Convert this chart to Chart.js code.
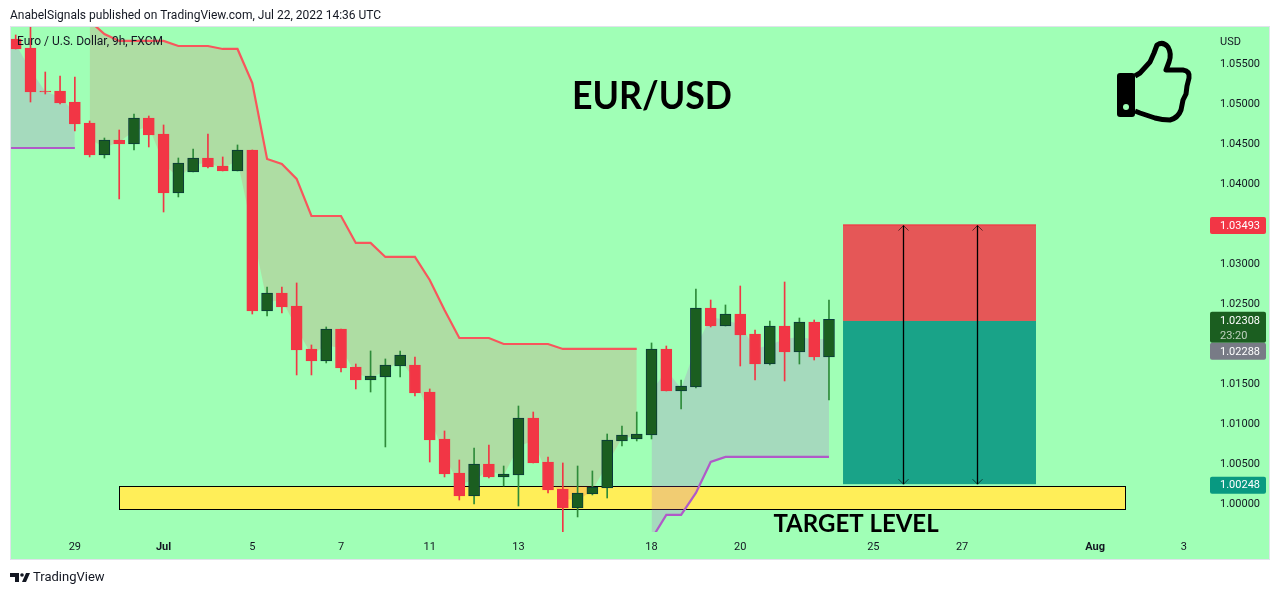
<!DOCTYPE html>
<html>
<head>
<meta charset="utf-8">
<title>EUR/USD</title>
<script src="https://cdn.jsdelivr.net/npm/chart.js@4"></script>
<style>
html, body { margin: 0; padding: 0; background: #fff; }
canvas { display: block; }
</style>
</head>
<body>
<canvas id="chart" width="1280" height="595"></canvas>
<script>
// candles, one entry per 9h bar
const opens = [1.05813,1.057,1.05163,1.05163,1.05025,1.04763,1.04363,1.0455,1.045,1.04825,1.04625,1.03888,1.0415,1.04325,1.04225,1.04163,1.04425,1.02413,1.02638,1.02475,1.01938,1.01788,1.02188,1.01713,1.0155,1.01588,1.01725,1.01738,1.014,1.00813,1.00388,1.001,1.005,1.00338,1.00363,1.01075,1.00525,1.00188,0.9995,1.00125,1.002,1.00788,1.00813,1.00863,1.01938,1.01413,1.01463,1.0245,1.02225,1.02375,1.02125,1.0175,1.02225,1.019,1.02275,1.01838];
const highs = [1.05863,1.0605,1.054,1.0535,1.05338,1.04788,1.04575,1.04675,1.04875,1.0485,1.04738,1.04325,1.04438,1.04625,1.04338,1.04488,1.04425,1.02713,1.02713,1.02763,1.01988,1.02213,1.02188,1.0175,1.01913,1.01813,1.01913,1.01838,1.01438,1.00913,1.0055,1.007,1.00738,1.00475,1.01225,1.0115,1.00588,1.00513,1.00475,1.00413,1.00875,1.00975,1.0115,1.02013,1.01975,1.0155,1.02688,1.0255,1.02488,1.02725,1.02175,1.02288,1.02775,1.02325,1.023,1.0255];
const lows = [1.05688,1.05025,1.05125,1.05,1.04663,1.04338,1.04325,1.03813,1.04425,1.04463,1.0365,1.03838,1.0415,1.042,1.04163,1.04163,1.02375,1.0235,1.02388,1.01613,1.01613,1.01763,1.0165,1.01438,1.014,1.00713,1.01588,1.0135,1.00525,1.00338,1.0005,1.0,1.00325,1.00225,0.99975,1.00513,1.00138,0.9965,0.99838,1.00113,1.00075,1.00725,1.00788,1.00813,1.01413,1.01188,1.0145,1.02213,1.02225,1.01725,1.0155,1.01738,1.01538,1.0175,1.018,1.013];
const closes = [1.05688,1.0515,1.0515,1.05013,1.0475,1.04363,1.0455,1.045,1.04825,1.04613,1.03888,1.04263,1.04325,1.04213,1.04163,1.04425,1.02413,1.02638,1.02463,1.01925,1.01788,1.02188,1.017,1.0155,1.016,1.01738,1.01863,1.01388,1.008,1.00375,1.001,1.005,1.00338,1.00375,1.01075,1.00513,1.00175,0.9995,1.00138,1.00213,1.008,1.00863,1.00875,1.01938,1.01413,1.01475,1.0245,1.02225,1.02375,1.02113,1.0175,1.02225,1.019,1.02275,1.01838,1.02308];

// supertrend lines and the edge of their shading, these start one bar earlier (off the left side)
const trendDown = [null,null,null,null,null,null,1.06038,1.05875,1.05788,1.05788,1.05788,1.05788,1.05725,1.05725,1.05725,1.05688,1.05688,1.05263,1.04313,1.0425,1.04063,1.036,1.036,1.036,1.03263,1.03263,1.03088,1.03088,1.03088,1.028,1.02425,1.02075,1.02075,1.02075,1.02,1.02,1.02,1.02,1.01938,1.01938,1.01938,1.01938,1.01938,1.01938,null,null,null,null,null,null,null,null,null,null,null,null,null];
const trendUp = [1.0445,1.0445,1.0445,1.0445,1.0445,1.0445,null,null,null,null,null,null,null,null,null,null,null,null,null,null,null,null,null,null,null,null,null,null,null,null,null,null,null,null,null,null,null,null,null,null,null,null,null,null,0.99563,0.99863,0.99863,1.00138,1.00525,1.00588,1.00588,1.00588,1.00588,1.00588,1.00588,1.00588,1.00588];
const bandEdge = [1.05838,1.0575,1.05425,1.05156,1.05088,1.04888,1.04563,1.04456,1.04525,1.04663,1.04719,1.04256,1.04075,1.04238,1.04269,1.04194,1.04294,1.03419,1.02525,1.0255,1.022,1.01863,1.01988,1.01944,1.01631,1.01575,1.01663,1.01794,1.01563,1.011,1.00594,1.00244,1.003,1.00419,1.00356,1.00719,1.00794,1.0035,1.00069,1.00044,1.00169,1.005,1.00825,1.00844,1.014,1.01675,1.01444,1.01956,1.02338,1.023,1.02244,1.01938,1.01988,1.02063,1.02088,1.02056,1.02069];

// axes
const yTicks = [1.0, 1.005, 1.01, 1.015, 1.025, 1.03, 1.04, 1.045, 1.05, 1.055];
const xTicks = [4, 10, 16, 22, 28, 34, 43, 49, 58, 64, 73, 79];
const xLabels = ['29', 'Jul', '5', '7', '11', '13', '18', '20', '25', '27', 'Aug', '3'];
const boldLabels = ['Jul', 'Aug'];

// drawings, in bar number and price
const targetZone = [7, 75, 1.00225, 0.99943];
const tradeX = [55.95, 69];
const tradeLevels = [1.03493, 1.02288, 1.00248];
const arrowBars = [60, 65];

const red = '#F23645';
const greenBody = '#1B5E20';
const ink = '#131722';
const labelFont = 'Roboto, sans-serif';
const bars = opens.map((_, i) => i);
const isUp = i => closes[i] >= opens[i];

function series(values) {
    return values.map((v, i) => ({ x: i - 1, y: v }));
}

function roundBox(ctx, x, y, w, h, color) {
    ctx.fillStyle = color;
    ctx.beginPath();
    ctx.roundRect(x, y, w, h, 2);
    ctx.fill();
}

function drawThumb(ctx) {
    ctx.save();
    ctx.fillStyle = '#000';
    ctx.beginPath();
    ctx.roundRect(1117, 73, 18, 44, 3);
    ctx.fill();
    ctx.fillStyle = '#A0FFB6';
    ctx.beginPath();
    ctx.arc(1126, 107, 3, 0, Math.PI * 2);
    ctx.fill();
    const hand = new Path2D('M1135 76 L1140 73 L1150 62 L1154 53 L1157 45 Q1163 41 1168 47 Q1172 54 1169 62 L1166 70 L1183 70 Q1190 71 1189 78 L1187 86 L1186 94 L1183 100 L1181 110 Q1178 118 1170 120 Q1162 120 1155 118 L1140 113 L1135 111');
    ctx.strokeStyle = '#000';
    ctx.lineWidth = 5;
    ctx.lineJoin = 'round';
    ctx.stroke(hand);
    ctx.restore();
}

function drawLogo(ctx) {
    ctx.fillStyle = ink;
    ctx.fill(new Path2D('M10 573 H19 V582 H15 V577 H10 Z M22 582 L26 573 H30 L26 582 Z'));
    ctx.beginPath();
    ctx.arc(22, 575, 1.8, 0, Math.PI * 2);
    ctx.fill();
}

const decor = {
    id: 'decor',
    beforeDraw(chart) {
        const ctx = chart.ctx;
        ctx.save();
        ctx.fillStyle = '#fff';
        ctx.fillRect(0, 0, chart.width, chart.height);
        ctx.fillStyle = '#A0FFB6';
        ctx.fillRect(10, 26, 1260, 534);
        ctx.strokeStyle = '#E0E3EB';
        ctx.strokeRect(10.5, 26.5, 1259, 533);
        ctx.restore();
    },
    beforeDatasetsDraw(chart) {
        const { ctx, scales: { x, y } } = chart;
        const left = Math.round(x.getPixelForValue(targetZone[0])) + 0.5;
        const right = Math.round(x.getPixelForValue(targetZone[1])) + 0.5;
        const top = Math.round(y.getPixelForValue(targetZone[2])) + 0.5;
        const bottom = Math.round(y.getPixelForValue(targetZone[3])) + 0.5;
        ctx.save();
        ctx.fillStyle = '#FFEE58';
        ctx.fillRect(left, top, right - left, bottom - top);
        ctx.strokeStyle = '#000';
        ctx.strokeRect(left, top, right - left, bottom - top);
        ctx.restore();
    },
    afterDatasetsDraw(chart) {
        const { ctx, scales: { x, y } } = chart;
        const left = x.getPixelForValue(tradeX[0]);
        const right = x.getPixelForValue(tradeX[1]);
        const [top, mid, bottom] = tradeLevels.map(v => y.getPixelForValue(v));
        ctx.save();
        ctx.fillStyle = '#E55757';
        ctx.fillRect(left, top, right - left, mid - top);
        ctx.fillStyle = '#19A388';
        ctx.fillRect(left, mid, right - left, bottom - mid);
        ctx.fillStyle = red;
        ctx.fillRect(left, top, right - left, 1);

        arrowBars.forEach(bar => {
            const px = Math.round(x.getPixelForValue(bar)) + 0.5;
            ctx.strokeStyle = '#000';
            ctx.lineWidth = 1.3;
            ctx.beginPath();
            ctx.moveTo(px, top + 1);
            ctx.lineTo(px, bottom);
            ctx.stroke();
            ctx.strokeStyle = 'rgba(0,0,0,0.6)';
            ctx.lineWidth = 1;
            ctx.beginPath();
            ctx.moveTo(px - 5, top + 6);
            ctx.lineTo(px, top + 1);
            ctx.lineTo(px + 5, top + 6);
            ctx.moveTo(px - 5, bottom - 5);
            ctx.lineTo(px, bottom);
            ctx.lineTo(px + 5, bottom - 5);
            ctx.stroke();
        });
        ctx.restore();
    },
    afterDraw(chart) {
        const { ctx, scales: { y } } = chart;
        ctx.save();
        ctx.textBaseline = 'middle';
        ctx.textAlign = 'left';

        ctx.fillStyle = ink;
        ctx.font = '12px ' + labelFont;
        ctx.fillText('AnabelSignals published on TradingView.com, Jul 22, 2022 14:36 UTC', 10, 16);
        ctx.fillText('Euro / U.S. Dollar, 9h, FXCM', 17, 42);
        ctx.font = '11px ' + labelFont;
        ctx.fillText('USD', 1220, 42);
        ctx.font = '13px ' + labelFont;
        ctx.fillText('TradingView', 33, 578);
        drawLogo(ctx);

        ctx.fillStyle = '#000';
        ctx.textAlign = 'center';
        ctx.font = 'bold 39px Lato, sans-serif';
        ctx.fillText('EUR/USD', 652, 96, 160);
        ctx.font = 'bold 24px Lato, sans-serif';
        ctx.fillText('TARGET LEVEL', 856, 524);
        drawThumb(ctx);

        // price labels on the axis
        const boxX = 1210, boxW = 56, textX = 1220;
        const topY = y.getPixelForValue(tradeLevels[0]);
        const lastY = y.getPixelForValue(closes[closes.length - 1]);
        const lowY = y.getPixelForValue(tradeLevels[2]);
        ctx.textAlign = 'left';
        ctx.font = '11px ' + labelFont;
        roundBox(ctx, boxX, topY - 7.5, boxW, 17, red);
        roundBox(ctx, boxX, lastY - 7.5, boxW, 31, greenBody);
        roundBox(ctx, boxX, lastY + 23.5, boxW, 17, '#787B86');
        roundBox(ctx, boxX, lowY - 7.5, boxW, 17, '#089981');
        ctx.fillStyle = '#fff';
        ctx.fillText(tradeLevels[0].toFixed(5), textX, topY + 1.5);
        ctx.fillText(closes[closes.length - 1].toFixed(5), textX, lastY + 1.5);
        ctx.fillText(tradeLevels[1].toFixed(5), textX, lastY + 33);
        ctx.fillText(tradeLevels[2].toFixed(5), textX, lowY + 1.5);
        ctx.fillStyle = 'rgba(255,255,255,0.7)';
        ctx.fillText('23:20', textX, lastY + 16.5);
        ctx.restore();
    }
};

new Chart(document.getElementById('chart'), {
    type: 'bar',
    data: {
        datasets: [
            {
                type: 'line', label: 'edge', data: series(bandEdge),
                borderWidth: 0, pointRadius: 0, order: 9
            },
            {
                type: 'line', label: 'down', data: series(trendDown),
                borderColor: '#F8565C', borderWidth: 2.2, pointRadius: 0, tension: 0,
                fill: { target: 0, above: 'rgba(242,54,69,0.17)', below: 'rgba(242,54,69,0.17)' },
                order: 4
            },
            {
                type: 'line', label: 'up', data: series(trendUp),
                borderColor: '#B05AC8', borderWidth: 2.2, pointRadius: 0, tension: 0,
                fill: { target: 0, above: 'rgba(185,70,222,0.2)', below: 'rgba(185,70,222,0.2)' },
                order: 3
            },
            {
                label: 'wick', data: bars.map(i => ({ x: i, y: [lows[i], highs[i]] })),
                backgroundColor: bars.map(i => isUp(i) ? '#2E8B3A' : red),
                barThickness: 1, grouped: false, borderWidth: 0, order: 2
            },
            {
                label: 'body', data: bars.map(i => ({ x: i, y: [opens[i], closes[i]] })),
                backgroundColor: bars.map(i => isUp(i) ? greenBody : red),
                borderColor: bars.map(i => isUp(i) ? '#0A3A3A' : red),
                barThickness: 11, grouped: false, borderWidth: 1, borderSkipped: false, order: 1
            }
        ]
    },
    options: {
        responsive: false,
        animation: false,
        devicePixelRatio: 1,
        layout: { padding: { left: 11, top: 27, right: 11, bottom: 36 } },
        plugins: { legend: { display: false }, tooltip: { enabled: false } },
        scales: {
            x: {
                type: 'linear',
                offset: false,
                min: -0.318,
                max: 80.7,
                grid: { display: false, drawTicks: false },
                border: { display: false },
                afterBuildTicks: axis => { axis.ticks = xTicks.map(v => ({ value: v })); },
                afterFit: axis => { axis.height = 27; },
                ticks: {
                    autoSkip: false,
                    maxRotation: 0,
                    padding: 9,
                    color: ink,
                    font: ctx => ({
                        family: labelFont,
                        size: 11,
                        weight: boldLabels.includes(xLabels[ctx.index]) ? 'bold' : 'normal'
                    }),
                    callback: (v, i) => xLabels[i]
                }
            },
            y: {
                position: 'right',
                min: 0.9965,
                max: 1.059625,
                grid: { display: false, drawTicks: false },
                border: { display: false },
                afterBuildTicks: axis => { axis.ticks = yTicks.map(v => ({ value: v })); },
                afterFit: axis => { axis.width = 60; },
                ticks: {
                    padding: 11,
                    color: ink,
                    font: { family: labelFont, size: 11 },
                    callback: v => v.toFixed(5)
                }
            }
        }
    },
    plugins: [decor]
});
</script>
</body>
</html>
